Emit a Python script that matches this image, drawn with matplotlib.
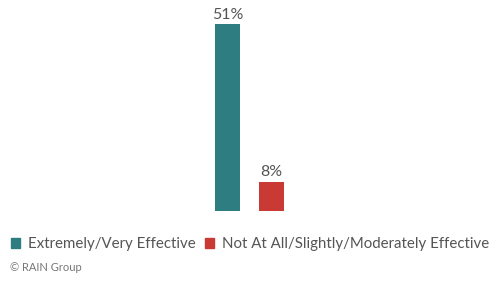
import matplotlib.pyplot as plt

categories = ['Extremely/Very Effective', 'Not At All/Slightly/Moderately Effective']
values = [51, 8]
colors = ['#2e7d80', '#c93a35']

plt.rcParams['font.family'] = ['Lato', 'DejaVu Sans']

fig = plt.figure(figsize=(5, 2.81), dpi=100)
ax = fig.add_axes([0, 0.249, 1, 0.783])

bars = ax.bar([0, 1], values, width=0.57, color=colors, label=categories)
for i, v in enumerate(values):
    ax.text(i, v + 0.6, f'{v}%', ha='center', va='bottom', fontsize=11.5, color='#555555')

ax.set_xlim(-227.5 / 44, 272.5 / 44)
ax.set_ylim(0, 60)
ax.axis('off')

handles = [plt.Rectangle((0, 0), 1, 1, color=c) for c in colors]
fig.legend(handles, categories, loc='lower left', bbox_to_anchor=(0.012, 0.09),
           ncol=2, frameon=False, fontsize=10.8, labelcolor='#555555',
           handlelength=0.6, handleheight=0.6, handletextpad=0.6, columnspacing=0.55,
           borderaxespad=0, borderpad=0.3)

fig.text(0.02, 0.035, '\u00a9 RAIN Group', fontsize=8, color='#777777')

fig.savefig('out.png', dpi=100)
